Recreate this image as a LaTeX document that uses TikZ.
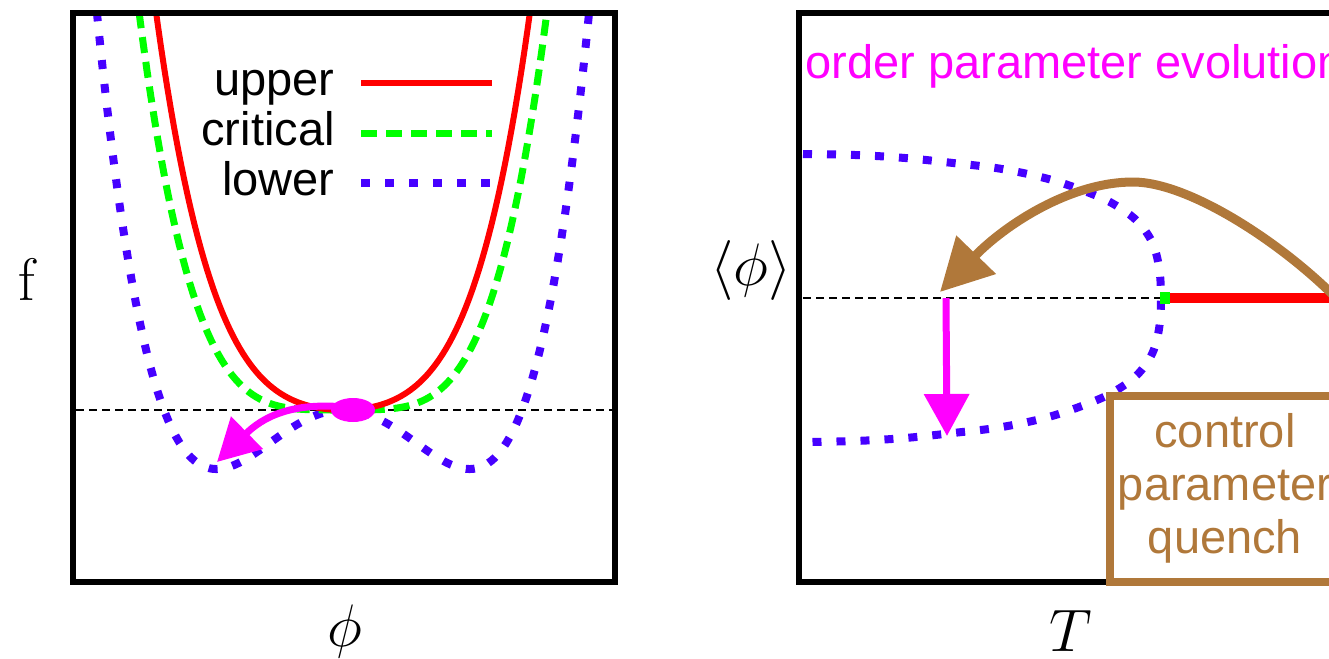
\RequirePackage{fix-cm}
\documentclass[tikz,border=0pt]{standalone}
\usepackage{fontspec}
\usepackage{amsmath}
\newfontfamily\helv{Liberation Sans}
\usetikzlibrary{arrows.meta}
\definecolor{lowblue}{RGB}{70,0,255}
\definecolor{evolmag}{RGB}{255,0,255}
\definecolor{quenchbrown}{RGB}{176,120,58}

\begin{document}
\begin{tikzpicture}[
    x=0.5pt, y=-0.5pt,
    frame/.style={draw=black, line width=3pt},
    refline/.style={black, line width=0.8pt, dash pattern=on 4pt off 2.5pt},
    upcurve/.style={red, line width=3pt},
    critcurve/.style={green, line width=3.5pt, dash pattern=on 8pt off 4.5pt},
    lowcurve/.style={lowblue, line width=4pt, dash pattern=on 4.5pt off 7.5pt},
    lbl/.style={font=\helv\fontsize{23.5}{26.5}\selectfont, inner sep=0pt},
    mlbl/.style={font=\fontsize{30}{36}\selectfont, inner sep=0pt},
    magarrow/.style={evolmag, line width=3.5pt, -{Triangle[length=21pt, width=22pt]}},
    brownarrow/.style={quenchbrown, line width=4.5pt, -{Triangle[length=26pt, width=26.5pt]}}
]
\useasboundingbox (0,0) rectangle (1329,659);
\clip (0,0) rectangle (1329,659);

% ================================================================
%  Left panel -- free energy f(phi)
% ================================================================
\begin{scope}
    \clip (76,16) rectangle (612,579);
    \draw[refline] (76,410) -- (612,410);
    \draw[lowcurve] plot[domain=-2.55:2.55, samples=140]
        ({343+100*\x}, {410+73.7*\x*\x-23*\x*\x*\x*\x});
    \draw[critcurve] plot[domain=-2.1:2.1, samples=120]
        ({343+100*\x}, {410-23*\x*\x*\x*\x});
    \draw[upcurve] plot[domain=-1.95:1.95, samples=120]
        ({343+100*\x}, {410-33.4*\x*\x-23*\x*\x*\x*\x});
\end{scope}

% legend
\node[lbl, anchor=base east] (lupper) at (335,95)  {upper};
\node[lbl, anchor=base east] (lcrit)  at (335,145) {critical};
\node[lbl, anchor=base east] (llower) at (335,195) {lower};
\draw[upcurve]   (lupper.base east) ++(26,-12) -- ++(131,0);
\draw[critcurve] (lcrit.base east)  ++(26,-12) -- ++(131,0);
\draw[lowcurve]  (llower.base east) ++(26,-12) -- ++(131,0);

% rolling off the top
\fill[evolmag] (353,410) ellipse [x radius=22, y radius=12];
\coordinate (rollstart) at (345,407);
\coordinate (rolltip)   at (217,462);
\draw[magarrow] (rollstart) .. controls (290,402) and (262,418) .. (rolltip);

\draw[frame] (73,13) rectangle (615,582);
\node[mlbl, anchor=base] (flbl)   at (27,300)  {f};
\node[mlbl, anchor=base] (philbl) at (345,646) {$\phi$};

% ================================================================
%  Right panel -- order parameter vs T
% ================================================================
\node[lbl, text=evolmag, anchor=base west] (evol) at (805,78) {order parameter evolution};

\draw[refline] (803,298) -- (1160,298);
\draw[lowcurve] plot[smooth, tension=0.6] coordinates {
    (803,154) (855,155) (905,158) (953,163) (1002,169) (1052,180)
    (1097,196) (1120,208) (1138,222) (1152,242) (1159,267) (1161,298)
    (1159,329) (1152,354) (1138,374) (1120,388) (1097,400) (1052,416)
    (1002,427) (953,433) (905,438) (855,441) (803,442)};

\fill[green] (1160,292) rectangle (1170,304);
\draw[red, line width=5pt] (1170,298) -- (1345,298);

\coordinate (qstart) at (1340,302);
\coordinate (qpeak)  at (1133,182);
\coordinate (qtip)   at (940,292);
\draw[brownarrow] (qstart) .. controls (1285,245) and (1190,182) .. (qpeak)
    .. controls (1070,182) and (1005,225) .. (qtip);

\coordinate (dropstart) at (946,298);
\coordinate (droptip)   at (947,436);
\draw[magarrow] (dropstart) -- (droptip);

\draw[frame] (799,13) rectangle (1400,582);
\draw[quenchbrown, line width=4pt] (1110,396) rectangle (1345,582);
\node[lbl, text=quenchbrown, align=center] (quench) at (1225,488)
    {control\\parameter\\quench};

\node[mlbl, anchor=base] (oplbl) at (751,285) {$\langle\phi\rangle$};
\node[mlbl, anchor=base] (Tlbl)  at (1071,651) {$T$};
\end{tikzpicture}
\end{document}
